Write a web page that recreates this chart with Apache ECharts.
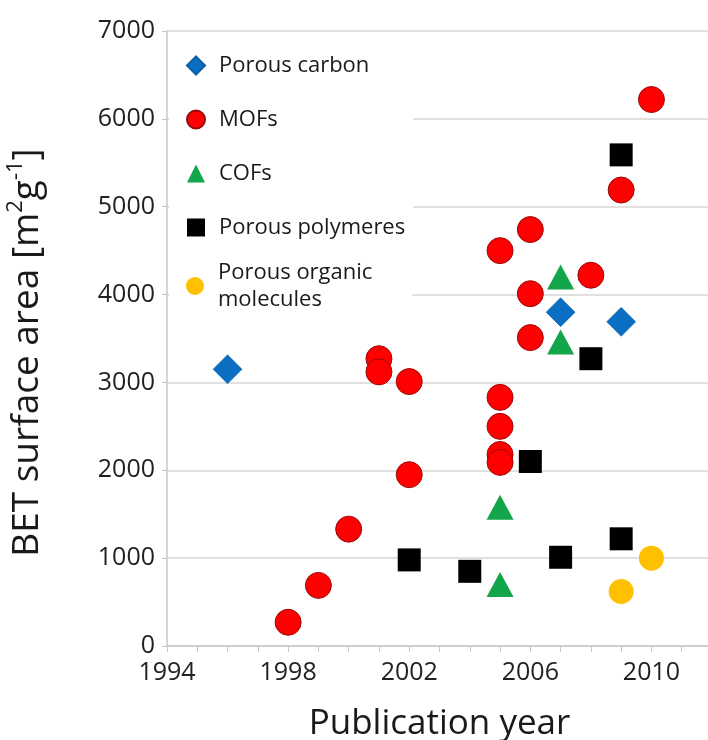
<!DOCTYPE html>
<html>
<head>
<meta charset="utf-8">
<script src="https://cdn.jsdelivr.net/npm/echarts@6/dist/echarts.min.js"></script>
<style>
  html, body { margin: 0; padding: 0; background: #fff; }
  #chart { width: 708px; height: 740px; }
</style>
</head>
<body>
<div id="chart"></div>
<script>
// values
const carbonYears = [1996, 2007, 2009];
const carbonArea = [3150, 3800, 3690];

const mofYears = [1998, 1999, 2000, 2001, 2001, 2002, 2002, 2005, 2005, 2005, 2005, 2005, 2006, 2006, 2006, 2008, 2009, 2010];
const mofArea = [270, 690, 1330, 3270, 3120, 3010, 1950, 4500, 2830, 2500, 2180, 2090, 4740, 4010, 3510, 4220, 5190, 6220];

const cofYears = [2005, 2005, 2007, 2007];
const cofArea = [1580, 700, 4200, 3460];

const polymerYears = [2002, 2004, 2006, 2007, 2008, 2009, 2009];
const polymerArea = [980, 850, 2100, 1010, 3270, 1220, 5590];

const moleculeYears = [2009, 2010];
const moleculeArea = [620, 1000];

const yearTicks = [1994, 1998, 2002, 2006, 2010];

function pairs(xs, ys) {
  return xs.map(function (x, i) { return [x, ys[i]]; });
}

const font = "'Open Sans', 'Noto Sans', sans-serif";
let chart = echarts.init(document.getElementById('chart'));

let legendBase = {
  orient: 'vertical',
  left: 169,
  backgroundColor: '#fff',
  itemWidth: 18,
  itemHeight: 18,
  itemGap: 27,
  selectedMode: false,
  textStyle: {
    fontFamily: font,
    fontSize: 22,
    lineHeight: 27,
    color: '#1a1a1a',
    padding: [0, 0, 0, 9]
  }
};

let option = {
  animation: false,
  backgroundColor: '#fff',
  grid: {
    left: 167,
    width: 545,
    top: 31,
    bottom: 94,
    outerBoundsMode: 'none'
  },
  legend: [
    Object.assign({}, legendBase, {
      top: 40,
      padding: [12, 8, 14, 17],
      data: ['Porous carbon', 'MOFs', 'COFs', 'Porous polymeres']
    }),
    Object.assign({}, legendBase, {
      top: 255,
      padding: [4, 40, 27, 17],
      data: ['Porous organic molecules'],
      formatter: function (name) {
        return 'Porous organic\nmolecules';
      }
    })
  ],
  xAxis: {
    type: 'value',
    min: 1994,
    max: 2012,
    interval: 1,
    name: 'Publication year',
    nameLocation: 'middle',
    nameGap: 61,
    nameTextStyle: {
      fontFamily: font,
      fontSize: 35,
      color: '#1a1a1a'
    },
    axisLine: { show: true, lineStyle: { color: '#c8c8c8', width: 1.5 } },
    axisTick: { show: true, length: 6, lineStyle: { color: '#c8c8c8' } },
    splitLine: { show: false },
    axisLabel: {
      fontFamily: font,
      fontSize: 25,
      color: '#222',
      margin: 14,
      formatter: function (v) {
        return yearTicks.indexOf(v) >= 0 ? String(v) : '';
      }
    }
  },
  yAxis: {
    type: 'value',
    min: 0,
    max: 7000,
    interval: 1000,
    name: 'BET surface area [m{sup|2}g{sup|-1}]',
    nameLocation: 'middle',
    nameGap: 118,
    nameRotate: 90,
    nameTextStyle: {
      fontFamily: font,
      fontSize: 37,
      lineHeight: 44,
      color: '#1a1a1a',
      padding: [0, 28, 0, 0],
      rich: {
        sup: {
          fontFamily: font,
          fontSize: 22,
          lineHeight: 24,
          verticalAlign: 'top',
          color: '#1a1a1a'
        }
      }
    },
    axisLine: { show: true, lineStyle: { color: '#c8c8c8', width: 1.5 } },
    axisTick: { show: true, length: 5, lineStyle: { color: '#c8c8c8' } },
    splitLine: { show: true, lineStyle: { color: '#d6d6d6', width: 1.5 } },
    axisLabel: {
      fontFamily: font,
      fontSize: 25,
      color: '#222',
      margin: 12,
      formatter: function (v) { return String(v); }
    }
  },
  series: [
    {
      name: 'Porous carbon',
      type: 'scatter',
      symbol: 'diamond',
      symbolSize: 29,
      itemStyle: { color: '#0a6fc2', borderColor: '#0b5fa5', borderWidth: 0.5, opacity: 1 },
      data: pairs(carbonYears, carbonArea)
    },
    {
      name: 'MOFs',
      type: 'scatter',
      symbol: 'circle',
      symbolSize: 26,
      itemStyle: { color: '#ff0000', borderColor: '#9a0a0a', borderWidth: 1, opacity: 1 },
      data: pairs(mofYears, mofArea)
    },
    {
      name: 'COFs',
      type: 'scatter',
      symbol: 'triangle',
      symbolSize: [27, 25],
      itemStyle: { color: '#13a54a', opacity: 1 },
      data: pairs(cofYears, cofArea)
    },
    {
      name: 'Porous polymeres',
      type: 'scatter',
      symbol: 'rect',
      symbolSize: 23,
      itemStyle: { color: '#000000', opacity: 1 },
      data: pairs(polymerYears, polymerArea)
    },
    {
      name: 'Porous organic molecules',
      type: 'scatter',
      symbol: 'circle',
      symbolSize: 25,
      itemStyle: { color: '#ffc000', opacity: 1 },
      data: pairs(moleculeYears, moleculeArea)
    }
  ]
};

chart.setOption(option);
</script>
</body>
</html>
